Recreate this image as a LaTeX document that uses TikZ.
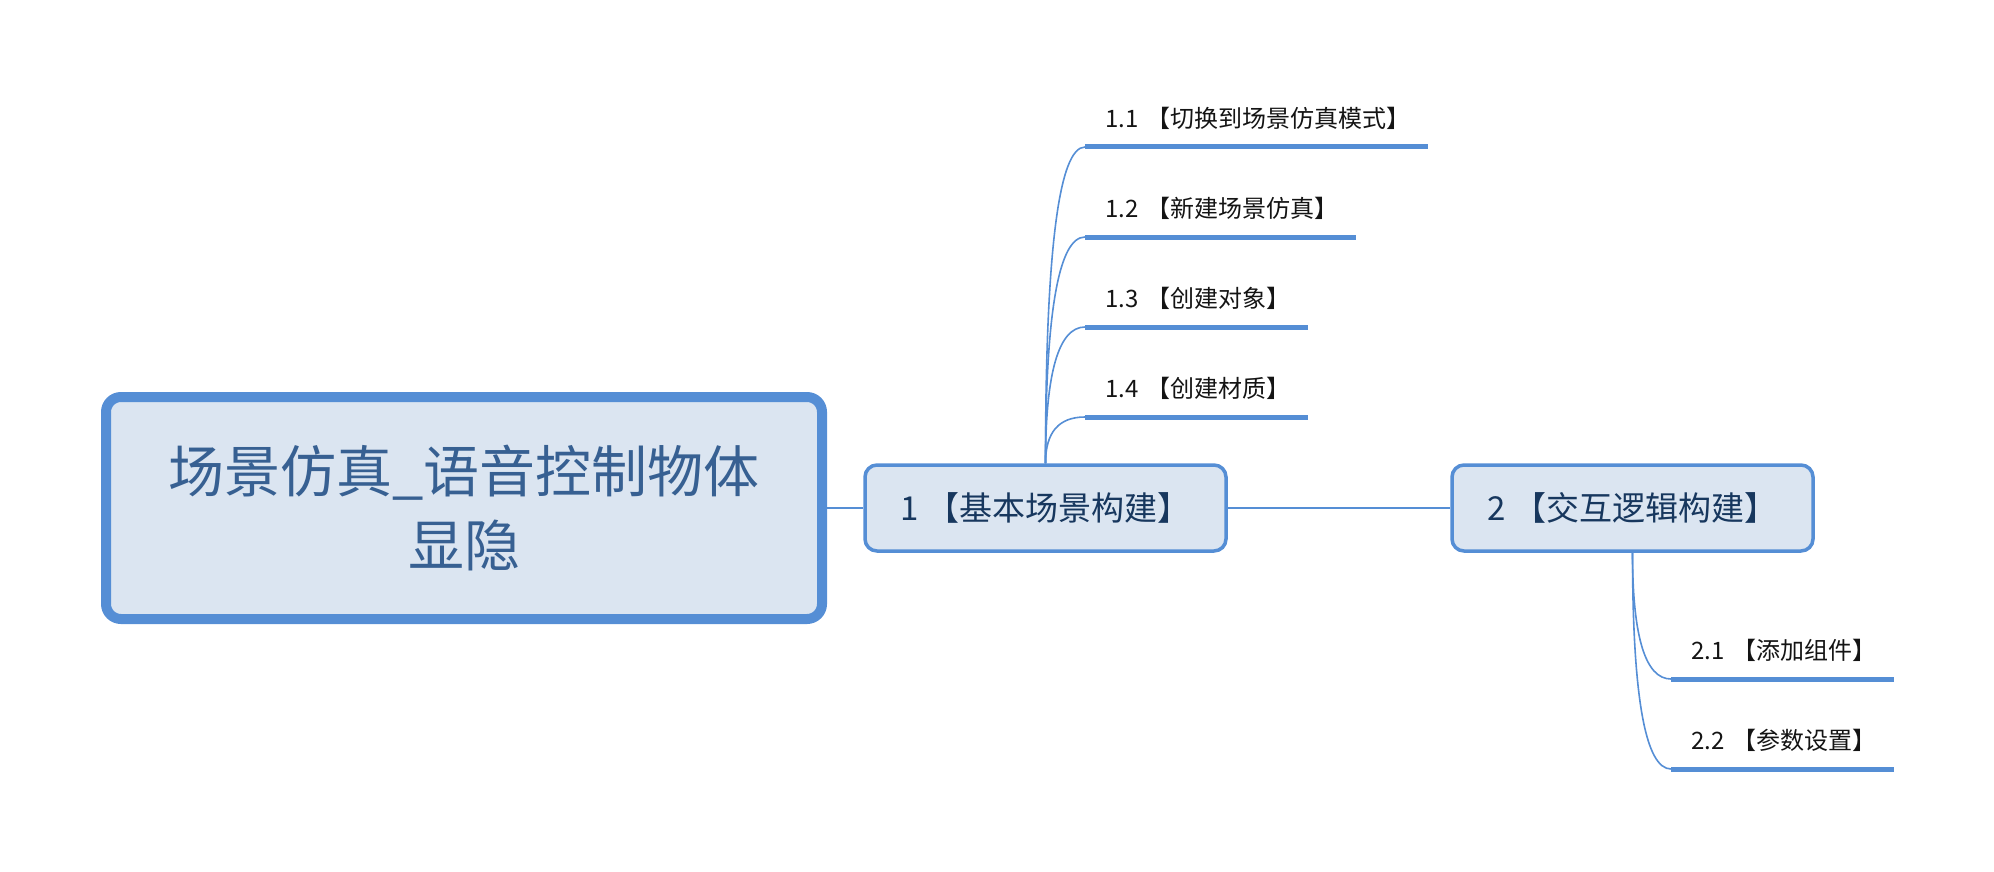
\documentclass[tikz,border=0pt]{standalone}
\usepackage{fontspec}
\setmainfont{Noto Sans CJK SC}
\usepackage{xcolor}
\usepackage{tikz}
\usetikzlibrary{calc}
\definecolor{mmblue}{HTML}{558ED5}
\definecolor{mmfill}{HTML}{DBE5F1}
\definecolor{roottext}{HTML}{376092}
\definecolor{topictext}{HTML}{17375E}
\definecolor{subtext}{HTML}{141414}

\begin{document}
\begin{tikzpicture}[x=1pt,y=-1pt,
    central/.style={draw=mmblue,line width=10pt,fill=mmfill,rounded corners=15pt,
      minimum width=716pt,minimum height=222pt,align=center,text=roottext,
      font=\fontsize{56pt}{74pt}\selectfont},
    topic/.style={draw=mmblue,line width=3.5pt,fill=mmfill,rounded corners=12pt,
      minimum width=361pt,minimum height=86pt,text=topictext,
      font=\fontsize{33pt}{39pt}\selectfont},
    subtopic/.style={anchor=south west,inner xsep=0pt,inner ysep=19pt,text depth=0pt,
      text width=#1,align=left,text=subtext,font=\fontsize{24pt}{29pt}\selectfont,
      execute at begin node={\noindent\hspace*{20pt}}},
    link/.style={draw=mmblue,line width=1.5pt},
    uline/.style={draw=mmblue,line width=5pt},
    branch/.style={draw=mmblue,line width=1.6pt,
      to path={.. controls ($(\tikztostart)!2/3!(\tikztostart |- \tikztotarget)$)
        and ($(\tikztotarget)!2/3!(\tikztostart |- \tikztotarget)$) .. (\tikztotarget)}}]
  \useasboundingbox (0,0) rectangle (1994,872);
  % main topics
  \node[central] (root) at (464,508) {场景仿真\_语音控制物体\\显隐};
  \node[topic] (n1) at (1045.5,508) {1 【基本场景构建】};
  \node[topic] (n2) at (1632.5,508) {2 【交互逻辑构建】};
  \draw[link] (root) -- (n1);
  \draw[link] (n1) -- (n2);
  % subtopics of 1
  \foreach \i/\y/\w/\txt in {1/147/343/{1.1 【切换到场景仿真模式】},
      2/237/271/{1.2 【新建场景仿真】},3/327/223/{1.3 【创建对象】},
      4/417/223/{1.4 【创建材质】}}
  {
    \node[subtopic=\w pt] (s1\i) at (1085,\y) {\txt};
    \draw[branch] (n1.north) to (s1\i.south west);
    \draw[uline] (s1\i.south west) -- (s1\i.south east);
  }
  % subtopics of 2
  \foreach \i/\y/\txt in {1/679/{2.1 【添加组件】},2/769/{2.2 【参数设置】}}
  {
    \node[subtopic=223pt] (s2\i) at (1671,\y) {\txt};
    \draw[branch] (n2.south) to (s2\i.south west);
    \draw[uline] (s2\i.south west) -- (s2\i.south east);
  }
\end{tikzpicture}
\end{document}
